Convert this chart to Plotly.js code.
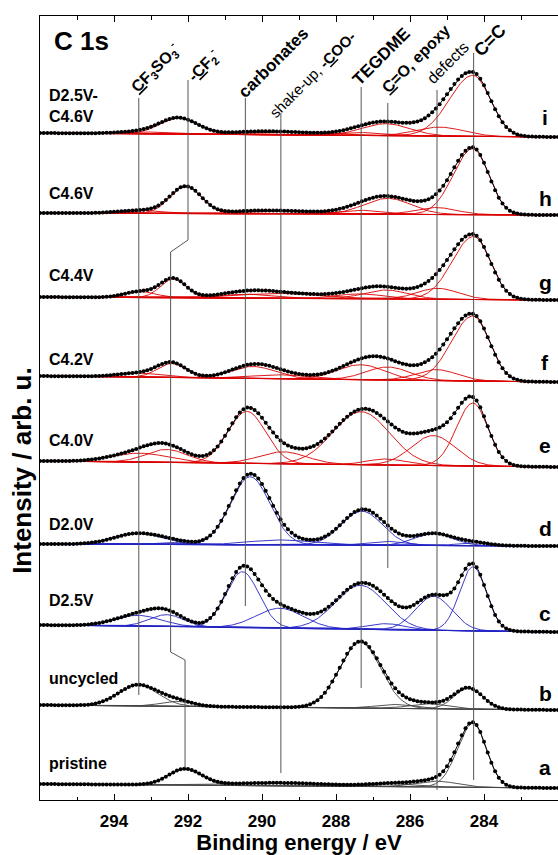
<!DOCTYPE html>
<html>
<head>
<meta charset="utf-8">
<script src="https://cdn.plot.ly/plotly-3.0.1.min.js"></script>
<style>html,body{margin:0;padding:0;background:#fff;overflow:hidden;}#chart{width:558px;height:855px;}</style>
</head>
<body>
<div id="chart"></div>
<script>
// ---------------- DATA ----------------
// Component order: CF3SO3-, -CF2-, carbonates, shake-up/-COO-, TEGDME, C=O/epoxy, defects, C=C
const componentNames = ['CF3SO3-', '-CF2-', 'carbonates', 'shake-up, -COO-', 'TEGDME', 'C=O, epoxy', 'defects', 'C=C'];
const spectrumLetters = ['i', 'h', 'g', 'f', 'e', 'd', 'c', 'b', 'a'];
const sampleNames = ['D2.5V-<br>C4.6V', 'C4.6V', 'C4.4V', 'C4.2V', 'C4.0V', 'D2.0V', 'D2.5V', 'uncycled', 'pristine'];
// stacked background (arb. u.) at 296 eV and at 282 eV
const baseHighBE = [667, 587, 503, 424, 339, 256, 175, 95, 16];
const baseLowBE  = [663, 585, 500, 418, 333, 254, 168, 90, 12];
// peak positions (eV)
const pos_i = [293.3, 292.25, 290.4, 289.5, 287.35, 286.65, 285.2, 284.3];
const pos_h = [293.3, 292.06, 290.4, 289.5, 287.35, 286.6, 285.3, 284.3];
const pos_g = [293.3, 292.4, 290.4, 289.5, 287.35, 286.65, 285.25, 284.28];
const pos_f = [293.3, 292.44, 290.24, 289.5, 287.33, 286.6, 285.28, 284.3];
const pos_e = [293.3, 292.58, 290.41, 289.43, 287.32, 286.65, 285.37, 284.3];
const pos_d = [293.35, 292.4, 290.32, 289.5, 287.3, 286.65, 285.36, 284.3];
const pos_c = [293.35, 292.58, 290.53, 289.52, 287.34, 286.65, 285.36, 284.3];
const pos_b = [293.35, 292.3, 290.4, 289.5, 287.35, 286.4, 285.5, 284.42];
const pos_a = [293.3, 292.08, 290.4, 289.5, 287.4, 286.5, 285.3, 284.3];
// peak heights (arb. u.)
const amp_i = [2, 16, 1, 3, 3, 12, 9, 61];
const amp_h = [3, 27, 1, 3, 4, 16, 7, 66];
const amp_g = [6, 19, 4, 5, 5, 9, 11, 63];
const amp_f = [4, 14, 12, 4, 15, 13, 11, 65];
const amp_e = [9, 13, 52, 12, 53, 6, 30, 63];
const amp_d = [11, 2, 68, 5, 34, 4, 12, 3];
const amp_c = [11, 12, 56, 20, 44, 6, 34, 64];
const amp_b = [21, 5, 0, 0, 66, 4, 5, 21];
const amp_a = [0, 16, 0, 3, 0, 3, 6, 64];
// FWHM (eV)
const fwhm_i = [1.4, 1.2, 1.5, 2.2, 1.4, 1.5, 1.5, 1.1];
const fwhm_h = [1.4, 1.0, 1.5, 2.2, 1.4, 1.5, 1.3, 1.0];
const fwhm_g = [1.0, 0.8, 1.6, 2.6, 1.5, 1.4, 1.3, 1.05];
const fwhm_f = [1.4, 0.9, 1.4, 1.8, 1.5, 1.4, 1.3, 1.05];
const fwhm_e = [1.8, 1.3, 1.2, 1.5, 1.8, 1.2, 1.4, 0.95];
const fwhm_d = [1.5, 1.0, 1.25, 2.0, 1.3, 1.2, 1.2, 1.0];
const fwhm_c = [1.5, 1.1, 1.05, 1.5, 1.6, 1.2, 1.15, 0.85];
const fwhm_b = [1.25, 1.0, 1.0, 1.0, 1.3, 1.2, 1.2, 0.9];
const fwhm_a = [1.0, 1.05, 1.0, 3.0, 1.0, 1.5, 1.3, 0.85];
// asymmetry of the C=C line (high-BE half width / low-BE half width)
const asymCC = [1.35, 1.25, 1.3, 1.3, 1.1, 1.0, 1.0, 1.0, 1.15];
// reference lines: energies (eV)
const refLineE = [293.33, 290.45, 289.49, 287.32, 286.6, 285.27, 284.28];
const cf2LineE = [292.0, 292.0, 292.47, 292.47, 292.08, 292.08];
const xTickVals = [294, 292, 290, 288, 286, 284];

// ---------------- LAYOUT / STYLE ----------------
const refLineTop = [702, 702, 687, 713, 697, 710, 747];
const refLineBot = [105, 194, 27, 112, 232, 10, 20];
const cf2LineY = [720, 560, 548, 148, 140, 32];
const seriesColors = ['#dd0000', '#dd0000', '#dd0000', '#dd0000', '#dd0000', '#2424c4', '#2424c4', '#444444', '#444444'];
const FONT = 'Liberation Sans, Arial, Helvetica, sans-serif';

const allPos = [pos_i, pos_h, pos_g, pos_f, pos_e, pos_d, pos_c, pos_b, pos_a];
const allAmp = [amp_i, amp_h, amp_g, amp_f, amp_e, amp_d, amp_c, amp_b, amp_a];
const allFw = [fwhm_i, fwhm_h, fwhm_g, fwhm_f, fwhm_e, fwhm_d, fwhm_c, fwhm_b, fwhm_a];

const fineE = []; for (let k = 0; k <= 700; k++) fineE.push(296 - k * 0.02);
const dotE = []; for (let k = 0; k <= 140; k++) dotE.push(296 - k * 0.1);

function bg(s, E) { return baseHighBE[s] + (baseLowBE[s] - baseHighBE[s]) * (296 - E) / 14; }
function peak(s, j, E) {
  const c = allPos[s][j], A = allAmp[s][j];
  let sig = allFw[s][j] / 2.3548;
  if (j === 7 && E > c) sig *= asymCC[s];
  return A * Math.exp(-(E - c) * (E - c) / (2 * sig * sig));
}
function envelope(s, E) { let v = bg(s, E); for (let j = 0; j < 8; j++) v += peak(s, j, E); return v; }

const traces = [];
for (let s = 0; s < 9; s++) {
  for (let j = 0; j < 8; j++) {
    if (allAmp[s][j] <= 0) continue;
    traces.push({x: fineE, y: fineE.map(E => bg(s, E) + peak(s, j, E)), mode: 'lines',
      line: {color: seriesColors[s], width: 0.9}, hoverinfo: 'skip', name: spectrumLetters[s] + ' ' + componentNames[j]});
  }
}
for (let s = 0; s < 9; s++) {
  traces.push({x: fineE, y: fineE.map(E => envelope(s, E)), mode: 'lines', line: {color: '#000', width: 1}, hoverinfo: 'skip'});
  traces.push({x: dotE, y: dotE.map(E => envelope(s, E)), mode: 'markers', marker: {color: '#000', size: 4}, hoverinfo: 'skip'});
}
for (let k = 0; k < refLineE.length; k++) {
  traces.push({x: [refLineE[k], refLineE[k]], y: [refLineTop[k], refLineBot[k]], mode: 'lines', line: {color: '#555', width: 1}, hoverinfo: 'skip'});
}
traces.push({x: cf2LineE, y: cf2LineY, mode: 'lines', line: {color: '#555', width: 1}, hoverinfo: 'skip'});

const annotations = [];
annotations.push({x: 295.68, y: 759, xref: 'x', yref: 'y', text: '<b>C 1s</b>', showarrow: false, xanchor: 'left', yanchor: 'middle', font: {family: FONT, size: 26, color: '#000'}});
annotations.push({x: -0.035, y: 330, xref: 'paper', yref: 'y', text: '<b>Intensity / arb. u.</b>', showarrow: false, textangle: -90, xanchor: 'center', yanchor: 'middle', font: {family: FONT, size: 26, color: '#000'}});
const leftLabelY = [694, 607, 525, 441, 360, 276, 200, 122, 37];
for (let s = 0; s < 9; s++) {
  annotations.push({x: 295.8, y: leftLabelY[s], xref: 'x', yref: 'y', text: '<b>' + sampleNames[s] + '</b>', showarrow: false, xanchor: 'left', yanchor: 'middle', align: 'left', font: {family: FONT, size: 16, color: '#000'}});
}
const rightLabelY = [683, 602, 518, 438, 355, 272, 187, 107, 33];
for (let s = 0; s < 9; s++) {
  annotations.push({x: 282.35, y: rightLabelY[s], xref: 'x', yref: 'y', text: '<b>' + spectrumLetters[s] + '</b>', showarrow: false, xanchor: 'center', yanchor: 'middle', font: {family: FONT, size: 21, color: '#000'}});
}
const topLabels = ['<b><u>C</u>F<sub>3</sub>SO<sub>3</sub><sup>-</sup></b>', '<b>-<u>C</u>F<sub>2</sub><sup>-</sup></b>', '<b>carbonates</b>', 'shake-up, <b>-<u>C</u>OO-</b>', '<b>TEGDME</b>', '<b><u>C</u>=O, epoxy</b>', 'defects', '<b>C=C</b>'];
const topLabelX = [292.89, 291.57, 289.68, 288.64, 286.77, 285.84, 284.97, 283.84];
const topLabelY = [732, 735, 737.5, 726, 743.5, 742, 737.5, 760.5];
const topLabelSize = [16, 16, 17, 15, 17, 16, 16, 18];
for (let k = 0; k < topLabels.length; k++) {
  annotations.push({x: topLabelX[k], y: topLabelY[k], xref: 'x', yref: 'y', text: topLabels[k], showarrow: false, textangle: -45, xanchor: 'center', yanchor: 'middle', font: {family: FONT, size: topLabelSize[k], color: '#000'}});
}

const layout = {
  width: 558, height: 855,
  margin: {l: 40, r: 0, t: 16, b: 55},
  paper_bgcolor: '#fff', plot_bgcolor: '#fff',
  showlegend: false, hovermode: false,
  xaxis: {range: [296, 282], tickvals: xTickVals, ticks: 'inside', ticklen: 6, tickwidth: 1, tickcolor: '#000',
    minor: {ticks: 'inside', dtick: 1, tick0: 0, ticklen: 3.5, tickcolor: '#000'},
    showline: true, linecolor: '#000', linewidth: 1.2, mirror: 'ticks', showgrid: false, zeroline: false,
    ticklabelstandoff: 5,
    tickfont: {family: FONT, size: 17, color: '#000', weight: 'bold'},
    title: {text: '<b>Binding energy / eV</b>', font: {family: FONT, size: 22, color: '#000'}, standoff: 8}},
  yaxis: {range: [0, 784], showticklabels: false, ticks: '', showgrid: false, zeroline: false,
    showline: true, linecolor: '#000', linewidth: 1.2},
  annotations: annotations
};
Plotly.newPlot('chart', traces, layout, {staticPlot: true, displayModeBar: false});
</script>
</body>
</html>
